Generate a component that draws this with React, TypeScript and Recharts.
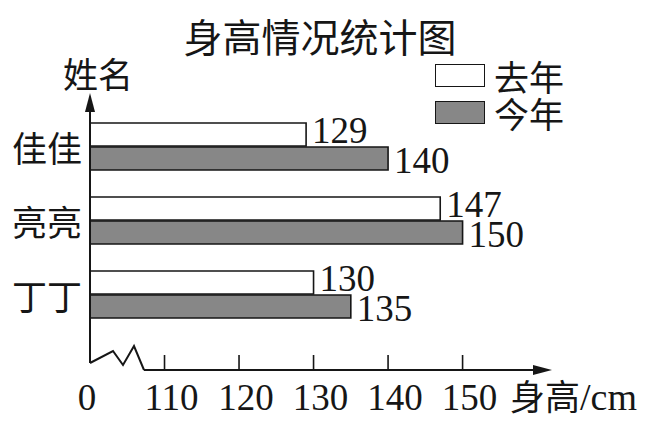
import { Bar, BarChart, LabelList, Legend, XAxis, YAxis } from "recharts";

const names = ["佳佳", "亮亮", "丁丁"];
const lastYear = [129, 147, 130];
const thisYear = [140, 150, 135];
const seriesOrder = ["去年", "今年"];
const xTicks = [100, 110, 120, 130, 140, 150];
const xTickLabels = ["0", "110", "120", "130", "140", "150"];

const data = names.map((name, i) => ({ name, 去年: lastYear[i], 今年: thisYear[i] }));

const INK = "#161616";
const GRAY = "#878787";
const CJK = "'Noto Sans CJK SC', sans-serif";
const SERIF = "'Liberation Serif', 'Times New Roman', serif";

function XTick(props: any) {
  const { x, y, payload, index } = props;
  const first = payload.value === xTicks[0];
  return (
    <g>
      {!first && <line x1={x} y1={y} x2={x} y2={y - 15} stroke={INK} strokeWidth={1.6} />}
      <text x={x + (first ? -3 : 7)} y={y + 40} textAnchor="middle" fontFamily={SERIF} fontSize={37} fill={INK}>
        {xTickLabels[index] ?? payload.value}
      </text>
    </g>
  );
}

function YTick(props: any) {
  const { x, y, payload } = props;
  return (
    <text x={x} y={y} textAnchor="end" dominantBaseline="central" fontFamily={CJK} fontSize={35} fill={INK}>
      {payload.value}
    </text>
  );
}

// x axis: broken start (zigzag), line, arrow and unit
function XDecor(props: any) {
  const { x, y, width } = props.viewBox;
  const end = x + width;
  return (
    <g>
      <polyline
        points={`${x},${y - 7} ${x + 23},${y - 19} ${x + 33},${y - 5} ${x + 44},${y - 24} ${x + 54},${y}`}
        fill="none"
        stroke={INK}
        strokeWidth={2}
        strokeLinejoin="miter"
      />
      <line x1={x + 54} y1={y} x2={end - 16} y2={y} stroke={INK} strokeWidth={2} />
      <polygon points={`${end - 19},${y - 5} ${end},${y} ${end - 19},${y + 5}`} fill={INK} />
      <text x={end - 42} y={y + 40} fill={INK}>
        <tspan fontFamily={CJK} fontSize={35}>身高</tspan>
        <tspan fontFamily={SERIF} fontSize={38}>/cm</tspan>
      </text>
    </g>
  );
}

// y axis: line with arrow and the name label
function YDecor(props: any) {
  const { x, y, width, height } = props.viewBox;
  const ax = x + width;
  return (
    <g>
      <line x1={ax} y1={y + 16} x2={ax} y2={y + height - 7} stroke={INK} strokeWidth={2} />
      <polygon points={`${ax - 5},${y + 19} ${ax},${y} ${ax + 5},${y + 19}`} fill={INK} />
      <text x={ax - 27} y={y - 21} dominantBaseline="central" fontFamily={CJK} fontSize={35} fill={INK}>
        姓名
      </text>
    </g>
  );
}

function valueLabel(dy: number) {
  return (props: any) => {
    const { x, y, width, height, value } = props;
    return (
      <text
        x={x + width + 6}
        y={y + height / 2 + dy}
        dominantBaseline="central"
        fontFamily={SERIF}
        fontSize={37}
        fill={INK}
      >
        {value}
      </text>
    );
  };
}

function LegendBox(props: any) {
  const items = [...(props.payload || [])].sort(
    (a: any, b: any) => seriesOrder.indexOf(a.value) - seriesOrder.indexOf(b.value)
  );
  return (
    <div style={{ display: "flex", flexDirection: "column", gap: 14 }}>
      {items.map((entry: any) => (
        <div key={entry.value} style={{ display: "flex", alignItems: "center", height: 23 }}>
          <div
            style={{
              width: 48,
              height: 21,
              background: entry.color,
              border: `1.6px solid ${INK}`,
            }}
          />
          <span style={{ fontFamily: CJK, fontSize: 35, marginLeft: 9, color: INK, lineHeight: 1 }}>
            {entry.value}
          </span>
        </div>
      ))}
    </div>
  );
}

export default function App() {
  return (
    <div style={{ position: "absolute", left: 0, top: 0, width: 661, height: 423, background: "#fff" }}>
      <div
        style={{
          position: "absolute",
          left: 0,
          top: 16,
          width: 640,
          textAlign: "center",
          fontFamily: CJK,
          fontSize: 39,
          lineHeight: 1,
          color: INK,
        }}
      >
        身高情况统计图
      </div>
      <BarChart
        width={661}
        height={423}
        data={data}
        layout="vertical"
        margin={{ top: 93, right: 109, bottom: 0, left: 0 }}
        barCategoryGap={14}
        barGap={1}
      >
        <YAxis
          type="category"
          dataKey="name"
          width={90}
          padding={{ top: 16, bottom: 39 }}
          axisLine={false}
          tickLine={false}
          tickSize={0}
          tickMargin={8}
          tick={<YTick />}
          label={(p: any) => <YDecor {...p} />}
        />
        <XAxis
          type="number"
          domain={[100, 162]}
          ticks={xTicks}
          height={53}
          axisLine={false}
          tickLine={false}
          tickSize={0}
          tickMargin={0}
          interval={0}
          tick={<XTick />}
          label={(p: any) => <XDecor {...p} />}
        />
        <Legend
          layout="vertical"
          align="center"
          verticalAlign="middle"
          content={<LegendBox />}
          wrapperStyle={{ position: "absolute", left: 435, top: 64, width: 160, height: 80 }}
        />
        <Bar dataKey="去年" fill="#ffffff" stroke={INK} strokeWidth={1.6} isAnimationActive={false}>
          <LabelList dataKey="去年" content={valueLabel(-4)} />
        </Bar>
        <Bar dataKey="今年" fill={GRAY} stroke={INK} strokeWidth={1.6} isAnimationActive={false}>
          <LabelList dataKey="今年" content={valueLabel(2)} />
        </Bar>
      </BarChart>
    </div>
  );
}
